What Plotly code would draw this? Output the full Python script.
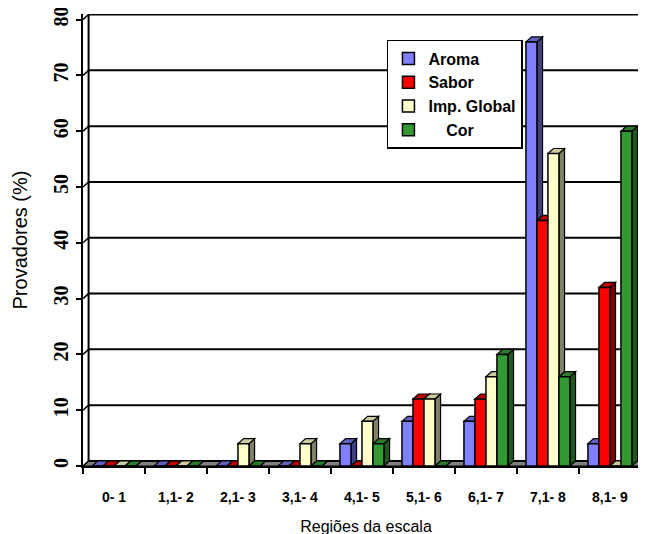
import plotly.graph_objects as go

categories = ["0- 1", "1,1- 2", "2,1- 3", "3,1- 4", "4,1- 5", "5,1- 6", "6,1- 7", "7,1- 8", "8,1- 9"]
aroma = [0, 0, 0, 0, 4, 8, 8, 76, 4]
sabor = [0, 0, 0, 0, 0, 12, 12, 44, 32]
imp_global = [0, 0, 4, 4, 8, 12, 16, 56, 0]
cor = [0, 0, 0, 0, 4, 0, 20, 16, 60]
y_ticks = [0, 10, 20, 30, 40, 50, 60, 70, 80]

series_names = ["Aroma", "Sabor", "Imp. Global", "\u00a0\u00a0\u00a0\u00a0Cor"]
series_values = [aroma, sabor, imp_global, cor]
front_colors = ["#8080FF", "#FF0000", "#FFFFCC", "#339933"]
side_colors = ["#404080", "#800000", "#808066", "#1E5A1E"]
top_colors = ["#6060C0", "#C00000", "#CCCCA0", "#2A7A2A"]

BARGAP = 0.29
n = len(series_values)
w = (1 - BARGAP) / n
DX = 0.09    # depth offset in category units
DY = 0.9     # depth offset in value units
XMIN = -0.5
XMAX = len(categories) - 0.5 + 0.13

fig = go.Figure()
for k, (name, vals) in enumerate(zip(series_names, series_values)):
    fig.add_trace(go.Bar(
        x=categories, y=vals, name=name, legendgroup=name,
        marker=dict(color=front_colors[k], line=dict(color="black", width=1.5)),
    ))

shapes = []
# floor
shapes.append(dict(type="path", xref="x", yref="y", layer="below",
                   path=f"M {XMIN},0 L {XMIN+DX},{DY} L {XMAX+DX},{DY} L {XMAX},0 Z",
                   fillcolor="#808080", line=dict(color="black", width=1)))
# back wall gridlines and connectors
for t in y_ticks:
    shapes.append(dict(type="line", xref="x", yref="y", layer="below",
                       x0=XMIN + DX, x1=XMAX + 0.2, y0=t + DY, y1=t + DY,
                       line=dict(color="black", width=2)))
    shapes.append(dict(type="line", xref="x", yref="y", layer="below",
                       x0=XMIN, x1=XMIN + DX, y0=t, y1=t + DY,
                       line=dict(color="black", width=1.5)))
shapes.append(dict(type="line", xref="x", yref="y", layer="below",
                   x0=XMIN + DX, x1=XMIN + DX, y0=DY, y1=y_ticks[-1] + DY,
                   line=dict(color="black", width=2)))

for k, vals in enumerate(series_values):
    for i, v in enumerate(vals):
        x0 = i + (k - (n - 1) / 2) * w - w / 2
        x1 = x0 + w
        side = f"M {x1},0 L {x1+DX},{DY} L {x1+DX},{v+DY} L {x1},{v} Z"
        top = f"M {x0},{v} L {x0+DX},{v+DY} L {x1+DX},{v+DY} L {x1},{v} Z"
        shapes.append(dict(type="path", path=side, xref="x", yref="y", layer="between",
                           fillcolor=side_colors[k], line=dict(color="black", width=1.2)))
        shapes.append(dict(type="path", path=top, xref="x", yref="y", layer="between",
                           fillcolor=top_colors[k], line=dict(color="black", width=1.2)))

fig.update_layout(
    width=646, height=534,
    margin=dict(l=75, r=5, t=6, b=76, autoexpand=False),
    paper_bgcolor="white", plot_bgcolor="white",
    barmode="group", bargap=BARGAP, bargroupgap=0,
    shapes=shapes,
    showlegend=True,
    legend=dict(
        x=0.537, y=0.9425, xanchor="left", yanchor="top",
        bgcolor="white", bordercolor="black", borderwidth=1.5,
        font=dict(family="Liberation Sans, Arial", size=16, color="black", weight="bold"),
        tracegroupgap=17, traceorder="normal",
    ),
    xaxis=dict(
        type="category", range=[XMIN, XMAX], automargin=False,
        showline=True, linecolor="black", linewidth=2,
        ticks="outside", tickson="boundaries", ticklen=6, tickwidth=2, tickcolor="black",
        ticklabelstandoff=17,
        tickfont=dict(family="Liberation Sans, Arial", size=14, color="black", weight="bold"),
        title=dict(text="Regiões da escala", standoff=17,
                   font=dict(family="Liberation Sans, Arial", size=16, color="black")),
        showgrid=False,
    ),
    yaxis=dict(
        range=[0, 81], tickvals=y_ticks, automargin=False,
        showline=True, linecolor="black", linewidth=2,
        ticks="outside", ticklen=5, tickwidth=2, tickcolor="black",
        tickangle=-90, ticklabeloverflow="allow",
        tickfont=dict(family="Liberation Serif, Times New Roman", size=20, color="black", weight="bold"),
        showgrid=False, zeroline=False,
        title=dict(text="Provadores (%)", standoff=17,
                   font=dict(family="Liberation Sans, Arial", size=20, color="black")),
    ),
)

fig.write_html("out.html")
